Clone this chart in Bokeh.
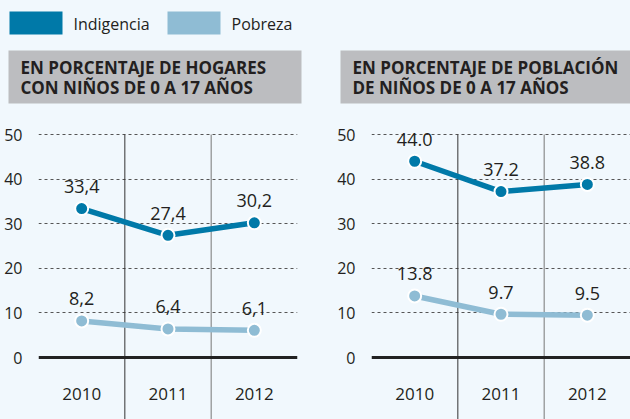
from bokeh.plotting import figure
from bokeh.layouts import column, row
from bokeh.models import Range1d, FixedTicker, Span
from bokeh.core.properties import value
from bokeh.embed import file_html
from bokeh.resources import INLINE

# ---- data ----
years = ["2010", "2011", "2012"]
hogares_indigencia = [33.4, 27.4, 30.2]
hogares_pobreza = [8.2, 6.4, 6.1]
poblacion_indigencia = [44.0, 37.2, 38.8]
poblacion_pobreza = [13.8, 9.7, 9.5]
y_ticks = [0, 10, 20, 30, 40, 50]
series_names = ["Indigencia", "Pobreza"]
titles = ["EN PORCENTAJE DE HOGARES\nCON NIÑOS DE 0 A 17 AÑOS",
          "EN PORCENTAJE DE POBLACIÓN\nDE NIÑOS DE 0 A 17 AÑOS"]

# ---- style ----
BG = "#f1f8fd"
DARK = "#0079a8"
LIGHT = "#8fbcd4"
GRAY_BOX = "#bcbdc0"
TXT = "#231f20"
FONT = "Open Sans"

W, H = 630, 419
HEAD_H = 112
FRAME_W = 259
FRAME_H = H - HEAD_H
PX_PER_UNIT = 4.46          # vertical scale of the panels
ZERO_PX = 357 - HEAD_H      # pixel position of y=0 from frame top
Y_TOP = max(y_ticks) + (ZERO_PX - max(y_ticks) * PX_PER_UNIT) / PX_PER_UNIT
Y_MIN = -(FRAME_H - ZERO_PX) / PX_PER_UNIT

x = list(range(len(years)))


def panel(ind, pob, fmt, border_left, border_right):
    p = figure(frame_width=FRAME_W, frame_height=FRAME_H,
               min_border_left=border_left, min_border_right=border_right,
               min_border_top=0, min_border_bottom=0,
               x_range=Range1d(-0.5, len(years) - 0.5),
               y_range=Range1d(Y_MIN, Y_TOP),
               x_axis_location=None, toolbar_location=None,
               output_backend="svg", background_fill_color=BG,
               border_fill_color=BG, outline_line_color=None)
    p.yaxis.ticker = FixedTicker(ticks=y_ticks)
    p.yaxis.axis_line_color = None
    p.yaxis.major_tick_line_color = None
    p.yaxis.minor_tick_line_color = None
    p.yaxis.major_label_standoff = 10
    p.yaxis.major_label_text_font = FONT
    p.yaxis.major_label_text_font_size = "16px"
    p.yaxis.major_label_text_color = TXT
    p.xgrid.visible = False
    p.ygrid.ticker = FixedTicker(ticks=y_ticks[1:])
    p.ygrid.grid_line_color = "#555555"
    p.ygrid.grid_line_dash = "3 3"
    p.ygrid.grid_line_width = 1

    # vertical separators between years, from the bottom up to the top gridline
    seps = [(a + b) / 2 for a, b in zip(x[:-1], x[1:])]
    p.segment(x0=seps, x1=seps, y0=[Y_MIN] * len(seps),
              y1=[max(y_ticks)] * len(seps),
              line_color=["#333333", "#777777"], line_width=1)
    p.add_layout(Span(location=0, dimension="width", line_color="#222222",
                      line_width=3))

    for vals, col in ((ind, DARK), (pob, LIGHT)):
        p.line(x, vals, line_color=col, line_width=5.5)
        p.scatter(x, vals, size=13, fill_color=col, line_color="white",
                  line_width=2)
        p.text(x, vals, text=[fmt(v) for v in vals], text_align="center",
               text_baseline="middle", y_offset=-22,
               text_font=value(FONT), text_font_size="18px", text_color=TXT)

    p.text(x, [-8.1] * len(x), text=years, text_align="center",
           text_baseline="middle", text_font=value(FONT),
           text_font_size="17px", text_color=TXT)
    return p


left = panel(hogares_indigencia, hogares_pobreza,
             lambda v: f"{v:.1f}".replace(".", ","), 38, 34)
right = panel(poblacion_indigencia, poblacion_pobreza,
              lambda v: f"{v:.1f}", 40, 0)

# ---- header: legend + panel titles ----
h = figure(frame_width=W, frame_height=HEAD_H, min_border=0,
           x_range=Range1d(0, W), y_range=Range1d(HEAD_H, 0),
           x_axis_location=None, y_axis_location=None,
           toolbar_location=None, output_backend="svg",
           background_fill_color=BG, border_fill_color=BG,
           outline_line_color=None)
h.grid.visible = False

legend_x = [9, 167]
for name, col, lx in zip(series_names, (DARK, LIGHT), legend_x):
    h.quad(left=[lx], right=[lx + 53], top=[11], bottom=[34],
           fill_color=col, line_color=None)
    h.text([lx + 64], [23], text=[name], text_baseline="middle",
           text_font=value(FONT), text_font_size="16px", text_color=TXT)

for t, (bl, br) in zip(titles, ((8, 301), (340, 630))):
    h.quad(left=[bl], right=[br], top=[50], bottom=[103],
           fill_color=GRAY_BOX, line_color=None)
    l1, l2 = t.split("\n")
    h.text([bl + 12, bl + 12], [67, 87], text=[l1, l2],
           text_baseline="middle", text_font=value(FONT),
           text_font_size="17px", text_font_style="bold", text_color=TXT)

layout = column(h, row(left, right))

html = file_html(layout, INLINE)
css = (f"<style>html,body{{margin:0;padding:0;background:{BG};"
       f"overflow:hidden;}}</style>")
html = html.replace("</head>", css + "</head>", 1)
open("out.html", "w").write(html)
